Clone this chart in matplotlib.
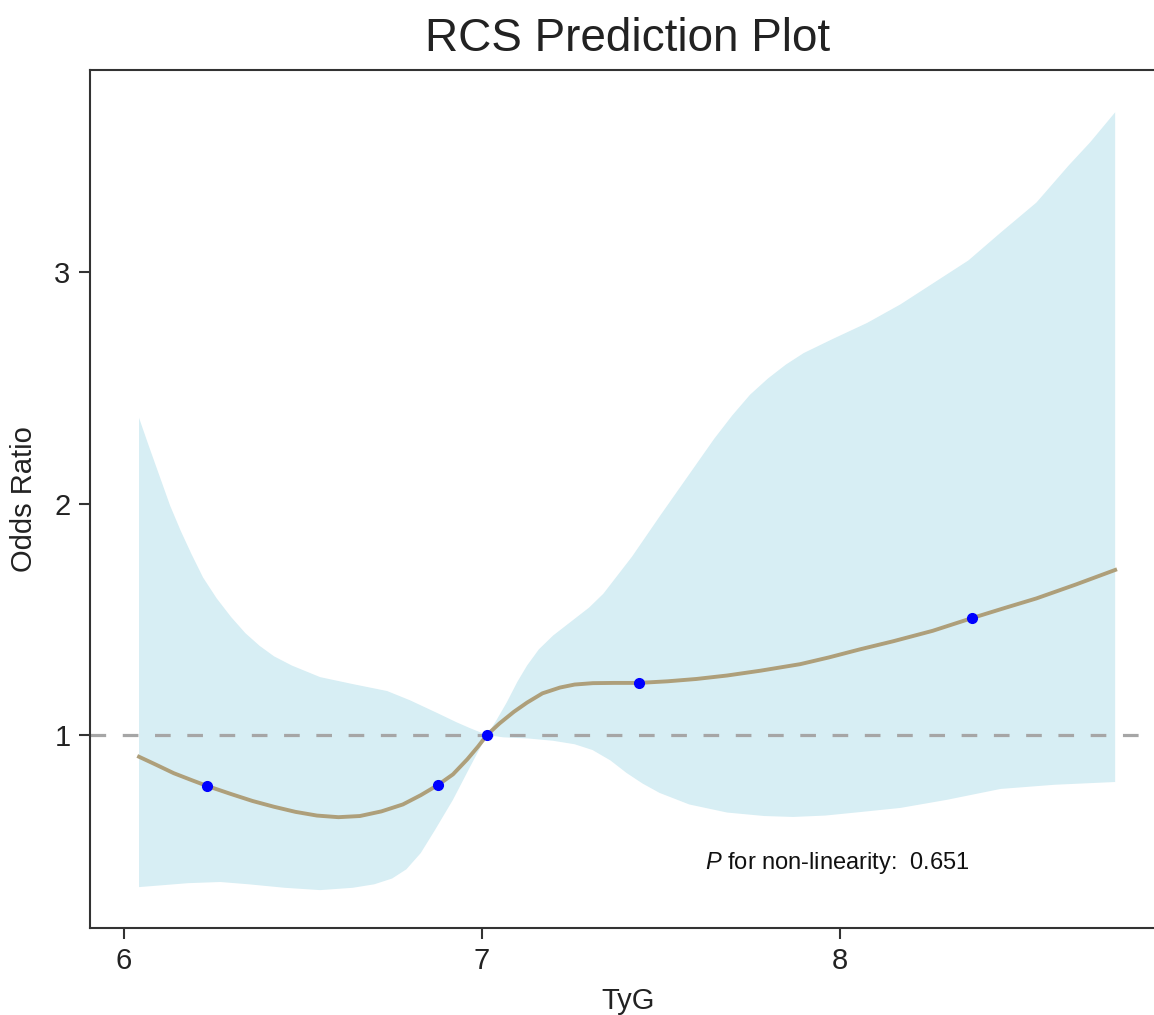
import numpy as np
import matplotlib
matplotlib.use('Agg')
import matplotlib.pyplot as plt

# fitted odds ratio curve
or_x = [6.043, 6.09, 6.14, 6.19, 6.233, 6.30, 6.36, 6.42, 6.48, 6.54, 6.60, 6.66, 6.72,
        6.78, 6.83, 6.878, 6.92, 6.96, 6.99, 7.015, 7.05, 7.09, 7.127, 7.17, 7.219, 7.26,
        7.311, 7.37, 7.44, 7.52, 7.60, 7.686, 7.78, 7.89, 7.97, 8.057, 8.15, 8.26, 8.37,
        8.46, 8.55, 8.66, 8.77]
or_y = [0.906, 0.872, 0.835, 0.805, 0.78, 0.745, 0.715, 0.69, 0.668, 0.652, 0.645, 0.65, 0.67,
        0.70, 0.74, 0.784, 0.83, 0.895, 0.95, 1.0, 1.05, 1.10, 1.14, 1.18, 1.205, 1.218,
        1.224, 1.225, 1.225, 1.232, 1.242, 1.257, 1.278, 1.306, 1.335, 1.37, 1.405, 1.45, 1.505,
        1.548, 1.59, 1.65, 1.713]

# upper bound of confidence band
up_x = [6.043, 6.07, 6.10, 6.13, 6.16, 6.19, 6.222, 6.26, 6.30, 6.34, 6.38, 6.42, 6.47,
        6.549, 6.64, 6.736, 6.80, 6.876, 6.93, 6.967, 7.015, 7.04, 7.07, 7.10, 7.127, 7.16,
        7.20, 7.25, 7.30, 7.34, 7.38, 7.42, 7.46, 7.50, 7.55, 7.60, 7.65, 7.70, 7.75, 7.80,
        7.85, 7.90, 7.98, 8.077, 8.17, 8.26, 8.36, 8.45, 8.55, 8.64, 8.70, 8.77]
up_y = [2.37, 2.25, 2.12, 1.99, 1.88, 1.78, 1.68, 1.59, 1.51, 1.44, 1.385, 1.34, 1.30,
        1.25, 1.22, 1.19, 1.15, 1.095, 1.055, 1.03, 1.0, 1.06, 1.14, 1.23, 1.30, 1.37,
        1.43, 1.49, 1.55, 1.61, 1.69, 1.77, 1.86, 1.95, 2.06, 2.17, 2.28, 2.38, 2.47, 2.54,
        2.60, 2.65, 2.71, 2.78, 2.86, 2.95, 3.05, 3.17, 3.30, 3.46, 3.56, 3.69]

# lower bound of confidence band
lo_x = [6.043, 6.10, 6.18, 6.27, 6.35, 6.45, 6.549, 6.64, 6.70, 6.75, 6.79, 6.83, 6.87,
        6.92, 6.967, 7.015, 7.06, 7.13, 7.20, 7.26, 7.31, 7.36, 7.405, 7.45, 7.497, 7.58,
        7.686, 7.79, 7.87, 7.96, 8.057, 8.17, 8.30, 8.45, 8.60, 8.77]
lo_y = [0.343, 0.35, 0.36, 0.365, 0.355, 0.34, 0.33, 0.34, 0.355, 0.38, 0.42, 0.49, 0.59,
        0.72, 0.86, 1.0, 0.99, 0.985, 0.975, 0.96, 0.935, 0.89, 0.836, 0.79, 0.75, 0.70,
        0.665, 0.65, 0.646, 0.652, 0.667, 0.685, 0.72, 0.767, 0.785, 0.797]

# knot points
knot_x = [6.233, 6.878, 7.015, 7.44, 8.37]
knot_y = [0.78, 0.784, 1.0, 1.225, 1.505]

p_text = 'for non-linearity:  0.651'

plt.rcParams['font.family'] = ['Liberation Sans', 'DejaVu Sans']
plt.rcParams['mathtext.fontset'] = 'custom'
plt.rcParams['mathtext.it'] = 'Liberation Sans:italic'
plt.rcParams['mathtext.rm'] = 'Liberation Sans'

fig = plt.figure(figsize=(11.54, 10.15), dpi=100)
ax = fig.add_axes([90 / 1154, 1 - 928 / 1015, 1076 / 1154, 858 / 1015])

band_x = np.concatenate([up_x, lo_x[::-1]])
band_y = np.concatenate([up_y, lo_y[::-1]])
ax.fill(band_x, band_y, color='#d7eef4', lw=0, zorder=1)
ax.axhline(1, color='#a6a6a6', lw=2.3, dashes=(4.9, 5.2), zorder=2)
ax.plot(or_x, or_y, color='#ae9f7a', lw=2.8, zorder=3, solid_joinstyle='round')
ax.plot(knot_x, knot_y, 'o', color='#0000ff', ms=7, zorder=4)

ax.text(7.624, 0.447, '$\\mathit{P}$ ' + p_text, fontsize=17, ha='left', va='center', color='#111111')

ax.set_xlim(5.906, 8.912)
ax.set_ylim(0.1663, 3.8726)
ax.set_xticks([6, 7, 8])
ax.set_yticks([1, 2, 3])
ax.tick_params(labelsize=21, length=8, width=1.5, color='#333333', labelcolor='#222222', pad=6)
for s in ax.spines.values():
    s.set_linewidth(1.5)
    s.set_color('#333333')

ax.set_xlabel('TyG', fontsize=21, color='#222222', labelpad=8)
ax.set_ylabel('Odds Ratio', fontsize=21, color='#222222', labelpad=12)
ax.set_title('RCS Prediction Plot', fontsize=33, color='#222222', pad=14)

fig.savefig('out.png', dpi=100)
